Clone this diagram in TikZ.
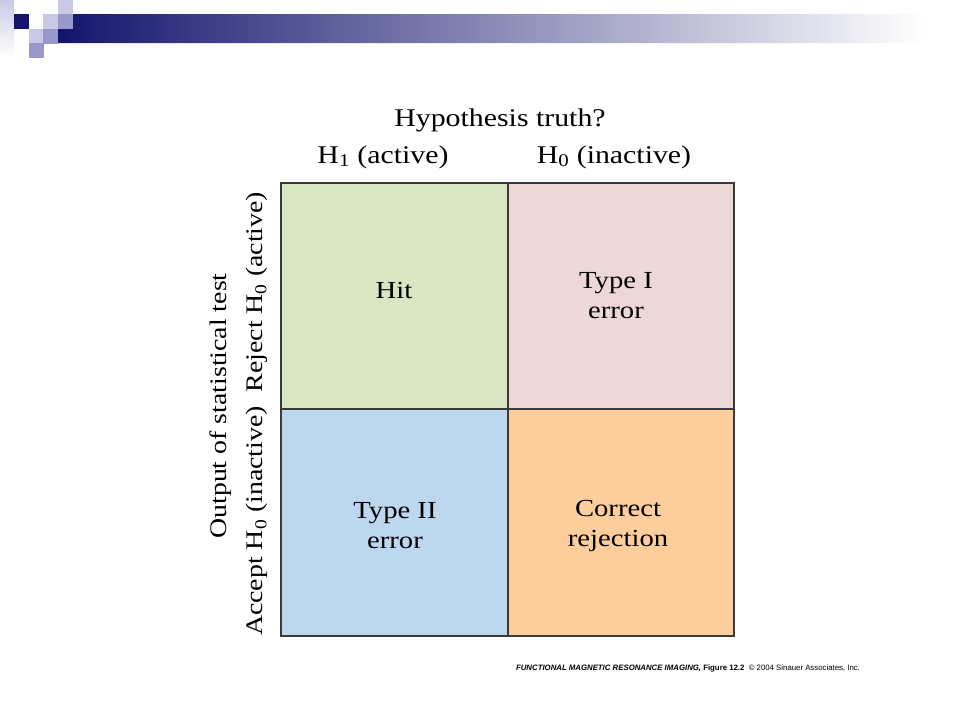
\documentclass[tikz,border=0pt]{standalone}
\usepackage{fontspec}
\setmainfont[FakeStretch=1.17]{Liberation Serif}
\newfontfamily\creditfont{Liberation Sans}
\usetikzlibrary{positioning}
\definecolor{hitgreen}{HTML}{D8E7C1}
\definecolor{typeonepink}{HTML}{EDD7D7}
\definecolor{typetwoblue}{HTML}{BDD7EF}
\definecolor{corrorange}{HTML}{FDCE9C}
\definecolor{gridline}{HTML}{3A3A3A}
\definecolor{slatenavy}{HTML}{14146E}
\definecolor{slatemid}{HTML}{9898CA}
\definecolor{slatelight}{HTML}{C9C9E6}
\definecolor{slatefade}{HTML}{ABABC2}
\newcommand{\labelfont}{\fontsize{25.5}{30}\selectfont}
\newcommand{\cellfont}{\fontsize{24.5}{30}\selectfont}
\newcommand{\sidefont}{\fontsize{23.8}{30}\selectfont}
\tikzset{
    cellbox/.style={draw=gridline, line width=2pt},
    celltext/.style={font=\cellfont, align=center, inner sep=0pt},
    headtext/.style={font=\labelfont, inner sep=0pt},
    sidetext/.style={font=\sidefont, inner sep=0pt, rotate=90}
}
\begin{document}
\begin{tikzpicture}[x=1pt, y=-1pt]
    \useasboundingbox (0,0) rectangle (960,720);
    % slide decoration
    \shade[top color=slatelight, bottom color=white] (0,0) rectangle (14,56);
    \shade[left color=slatenavy, middle color=slatefade, right color=white]
        (72,14) -- (925,14) -- (925,43) -- (58,43) -- (58,29) -- (72,29) -- cycle;
    \fill[slatenavy] (14,14) rectangle (29,29);
    \foreach \x/\y in {43/14, 58/0, 29/29}
        \fill[slatelight] (\x,\y) rectangle ++(15,15);
    \foreach \x/\y in {58/14, 43/29, 29/43}
        \fill[slatemid] (\x,\y) rectangle ++(15,15);
    % matrix corners
    \coordinate (tl) at (281,183);
    \coordinate (tm) at (508,183);
    \coordinate (tr) at (734,183);
    \coordinate (ml) at (281,409);
    \coordinate (mm) at (508,409);
    \coordinate (mr) at (734,409);
    \coordinate (bl) at (281,636);
    \coordinate (bm) at (508,636);
    \coordinate (br) at (734,636);
    \fill[hitgreen] (tl) rectangle (mm);
    \fill[typeonepink] (tm) rectangle (mr);
    \fill[typetwoblue] (ml) rectangle (bm);
    \fill[corrorange] (mm) rectangle (br);
    \draw[cellbox] (tl) rectangle (br);
    \draw[cellbox] (tm) -- (bm);
    \draw[cellbox] (ml) -- (mr);
    % cell labels
    \node[celltext] (hit) at (394,291) {Hit};
    \node[celltext] (typeone) at (616,296) {Type I\\error};
    \node[celltext] (typetwo) at (395,526) {Type II\\error};
    \node[celltext] (correct) at (618,526) {Correct\\rejection};
    % headings
    \node[headtext] (truth) at (500,120) {Hypothesis truth?};
    \node[headtext] (hone) at (383,157) {H\textsubscript{1} (active)};
    \node[headtext] (hzero) at (614,157) {H\textsubscript{0} (inactive)};
    \node[sidetext] (output) at (221,406) {Output of statistical test};
    \node[sidetext] (reject) at (257,292) {Reject H\textsubscript{0} (active)};
    \node[sidetext] (accept) at (257,521) {Accept H\textsubscript{0} (inactive)};
    % credit line
    \node[font=\creditfont\fontsize{7.8}{9}\selectfont, inner sep=0pt] (credit) at (688,668)
        {\textbf{\itshape FUNCTIONAL MAGNETIC RESONANCE IMAGING,} \textbf{Figure 12.2}\ \ \textcopyright\ 2004 Sinauer Associates, Inc.};
\end{tikzpicture}
\end{document}
